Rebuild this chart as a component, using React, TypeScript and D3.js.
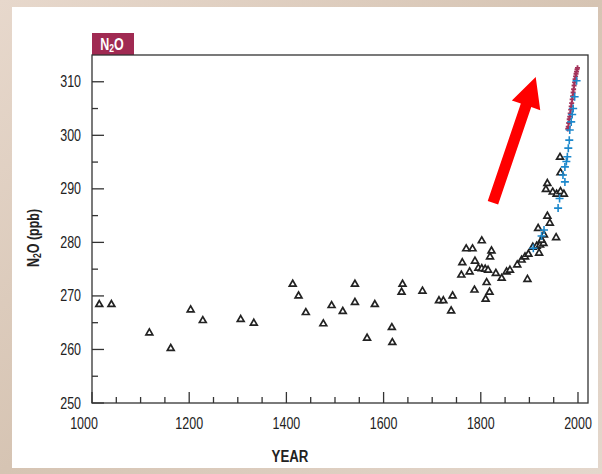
import React from 'react'
import * as d3 from 'd3'

// ice core measurements (triangles)
const iceYears = [1015, 1040, 1118, 1162, 1203, 1228, 1306, 1333, 1413, 1425, 1440, 1476, 1493, 1516, 1541, 1541, 1566, 1582, 1617, 1618, 1639, 1637, 1680, 1714, 1723, 1742, 1739, 1760, 1762, 1777, 1788, 1795, 1802, 1809, 1815, 1831, 1812, 1787, 1818, 1810, 1802, 1770, 1783, 1822, 1819, 1843, 1853, 1860, 1875, 1884, 1891, 1898, 1896, 1907, 1915, 1922, 1929, 1920, 1925, 1930, 1918, 1942, 1937, 1955, 1934, 1937, 1948, 1956, 1964, 1971, 1964, 1963]
const iceValues = [268.4, 268.4, 263.1, 260.2, 267.4, 265.4, 265.6, 264.9, 272.2, 270.0, 266.9, 264.8, 268.2, 267.1, 272.2, 268.8, 262.1, 268.4, 264.1, 261.3, 272.2, 270.7, 270.9, 269.1, 269.1, 270.0, 267.2, 273.9, 276.2, 274.5, 276.5, 275.2, 275.1, 275.0, 274.8, 274.2, 272.5, 271.1, 270.7, 269.4, 280.3, 278.8, 278.8, 278.4, 277.3, 273.3, 274.5, 274.8, 275.8, 276.7, 277.3, 277.8, 273.1, 279.1, 279.3, 279.5, 279.8, 278.0, 280.4, 281.4, 282.6, 283.6, 284.9, 280.9, 289.9, 291.0, 289.4, 289.0, 289.5, 289.0, 293.0, 295.9]

// firn air (blue crosses)
const firnYears = [1905, 1922, 1927, 1956, 1959, 1966, 1970, 1970, 1973, 1975, 1977, 1979, 1980, 1983, 1985, 1987, 1990, 1994]
const firnValues = [278.9, 281.2, 282.3, 286.4, 288.2, 292.6, 291.3, 294.1, 295.1, 296.0, 297.6, 299.1, 301.0, 302.5, 303.9, 305.0, 307.2, 310.2]

// atmospheric measurements (maroon)
const atmYears = [1979, 1980, 1981, 1982, 1983, 1984, 1985, 1986, 1987, 1988, 1989, 1990, 1991, 1992, 1993, 1994, 1995, 1996, 1997, 1998, 1999]
const atmValues = [301.2, 301.6, 302.3, 303.0, 303.5, 304.1, 304.8, 305.4, 306.0, 306.7, 307.3, 308.0, 308.6, 309.3, 309.9, 310.5, 311.0, 311.5, 311.9, 312.3, 312.6]

const yTicks = [250, 260, 270, 280, 290, 300, 310]
const xTicks = [1000, 1200, 1400, 1600, 1800, 2000]

// red arrow, in data units
const arrowFrom = [1825, 287.4]
const arrowTo = [1913, 310.9]

const W = 602
const H = 474
const FONT = "'Liberation Sans', Arial, sans-serif"
const SX = 0.78 // narrow the Arial-like face

function Narrow({ x, y, anchor = 'middle', size = 16, bold = false, fill = '#222', rotate = 0, children }) {
  return (
    <text transform={`translate(${x},${y}) rotate(${rotate}) scale(${SX},1)`} textAnchor={anchor}
      fontSize={size} fontWeight={bold ? 'bold' : 'normal'} fill={fill}>
      {children}
    </text>
  )
}

export default function App() {
  const left = 92, right = 588, top = 55, bottom = 403
  const x = d3.scaleLinear().domain([1000, 2020.6]).range([left, right])
  const y = d3.scaleLinear().domain([250, 315]).range([bottom, top])

  const tri = d3.symbol(d3.symbolTriangle, 20)()
  const cross = 'M-4,0H4M0,-4V4'
  const small = 'M-2.5,0H2.5M0,-2.5V2.5'

  const minorX = d3.range(1050, 2001, 50).filter(v => v % 200 !== 0)
  const minorY = d3.range(255, 315, 10)

  // arrow geometry
  const [x0, y0] = [x(arrowFrom[0]), y(arrowFrom[1])]
  const [x1, y1] = [x(arrowTo[0]), y(arrowTo[1])]
  const len = Math.hypot(x1 - x0, y1 - y0)
  const ux = (x1 - x0) / len, uy = (y1 - y0) / len
  const px = -uy, py = ux
  const headL = 30, headW = 15, bodyW = 5.5
  const bx = x1 - ux * headL, by = y1 - uy * headL
  const arrowPts = [
    [x0 + px * bodyW, y0 + py * bodyW],
    [bx + px * bodyW, by + py * bodyW],
    [bx + px * headW, by + py * headW],
    [x1, y1],
    [bx - px * headW, by - py * headW],
    [bx - px * bodyW, by - py * bodyW],
    [x0 - px * bodyW, y0 - py * bodyW],
  ]

  return (
    <svg width={W} height={H} style={{ position: 'absolute', left: 0, top: 0 }} fontFamily={FONT}>
      <defs>
        <linearGradient id="bg" x1="0" y1="0" x2="1" y2="1">
          <stop offset="0" stopColor="#e7d8cc" />
          <stop offset="0.5" stopColor="#d6c4b3" />
          <stop offset="1" stopColor="#e4d7cc" />
        </linearGradient>
        <filter id="soft"><feGaussianBlur stdDeviation="0.35" /></filter>
      </defs>
      <rect width={W} height={H} fill="url(#bg)" />
      <rect x={12} y={7} width={586} height={461} fill="#fff" />

      {/* N2O tab */}
      <rect x={left} y={33} width={42} height={top - 33} fill="#a02a52" />
      <Narrow x={left + 20} y={50} size={16} bold fill="#fff">
        N<tspan fontSize={11} dy={2}>2</tspan><tspan dy={-2}>O</tspan>
      </Narrow>

      {/* frame */}
      <rect x={left} y={top} width={right - left} height={bottom - top} fill="none" stroke="#333" strokeWidth={1.3} />

      {/* y ticks */}
      {yTicks.map(v => (
        <g key={'y' + v}>
          <line x1={left} x2={left + 12} y1={y(v)} y2={y(v)} stroke="#333" strokeWidth={1.3} />
          <Narrow x={left - 11} y={y(v) + 5.5} anchor="end">{v}</Narrow>
        </g>
      ))}
      {minorY.map(v => (
        <line key={'my' + v} x1={left} x2={left + 6} y1={y(v)} y2={y(v)} stroke="#333" strokeWidth={1.3} />
      ))}

      {/* x ticks */}
      {xTicks.map((v, i) => (
        <g key={'x' + v}>
          <line x1={x(v)} x2={x(v)} y1={bottom} y2={bottom - 11} stroke="#333" strokeWidth={1.3} />
          <Narrow x={x(v) - (i === 0 ? 8 : 0)} y={429}>{v}</Narrow>
        </g>
      ))}
      {minorX.map(v => (
        <line key={'mx' + v} x1={x(v)} x2={x(v)} y1={bottom} y2={bottom - 6} stroke="#333" strokeWidth={1.3} />
      ))}

      {/* axis titles */}
      <Narrow x={290} y={462} size={17} bold>YEAR</Narrow>
      <Narrow x={39} y={238} size={16} bold rotate={-90}>
        N<tspan fontSize={11} dy={2}>2</tspan><tspan dy={-2}>O (ppb)</tspan>
      </Narrow>

      {/* ice core */}
      <g filter="url(#soft)">
        {iceYears.map((yr, i) => (
          <path key={'i' + i} d={tri} transform={`translate(${x(yr)},${y(iceValues[i])})`}
            fill="#fff" stroke="#222" strokeWidth={1.7} />
        ))}
      </g>

      {/* atmospheric */}
      <g filter="url(#soft)">
        {atmYears.map((yr, i) => (
          <path key={'a' + i} d={small} transform={`translate(${x(yr)},${y(atmValues[i])})`}
            fill="none" stroke="#a3325a" strokeWidth={1.8} />
        ))}
      </g>

      {/* firn */}
      {firnYears.map((yr, i) => (
        <path key={'f' + i} d={cross} transform={`translate(${x(yr) + 1.5},${y(firnValues[i])})`}
          fill="none" stroke="#1c88cc" strokeWidth={1.6} />
      ))}

      {/* red arrow */}
      <polygon points={arrowPts.map(p => p.join(',')).join(' ')} fill="#ff0000" />
    </svg>
  )
}
